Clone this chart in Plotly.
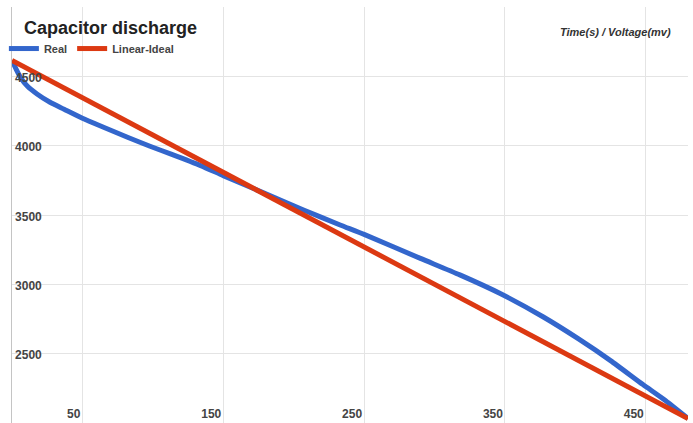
import plotly.graph_objects as go

# Real discharge curve (time in s, voltage in mV)
real_time = [0, 3, 6, 11, 18, 27, 37, 50, 65, 82, 98, 113, 134, 150, 179, 207, 233,
             250, 290, 318, 347, 377, 402, 425, 448, 463, 480]
real_mv = [4615, 4550, 4493, 4428, 4371, 4313, 4263, 4198, 4133, 4061, 3996, 3939, 3856,
           3784, 3658, 3536, 3428, 3360, 3187, 3068, 2932, 2766, 2608, 2450, 2277, 2169, 2032]

# Linear ideal discharge
ideal_time = [0, 480]
ideal_mv = [4615, 2032]

x_ticks = [50, 150, 250, 350, 450]
x_labels = ["<b>50</b>", "<b>150</b>", "<b>250</b>", "<b>350</b>", "<b>450</b>"]
y_ticks = [2500, 3000, 3500, 4000, 4500, 5000]
y_labels = ["<b>2500</b>", "<b>3000</b>", "<b>3500</b>", "<b>4000</b>", "<b>4500</b>", ""]

fig = go.Figure()
fig.add_trace(go.Scatter(x=real_time, y=real_mv, mode="lines", name="<b>Real</b>",
                         line=dict(color="#3366cc", width=5, shape="spline", smoothing=0.6)))
fig.add_trace(go.Scatter(x=ideal_time, y=ideal_mv, mode="lines", name="<b>Linear-Ideal</b>",
                         line=dict(color="#dc3912", width=5)))

tick_font = dict(family="Liberation Sans, Arial, sans-serif", size=12, color="#444444")

fig.update_layout(
    width=693, height=423,
    margin=dict(l=12, r=5, t=7, b=0),
    paper_bgcolor="white", plot_bgcolor="white",
    title=dict(text="<b>Capacitor discharge</b>", x=24 / 693, xanchor="left",
               xref="container", y=1 - 28 / 423, yanchor="middle", yref="container",
               font=dict(family="Liberation Sans, Arial, sans-serif", size=18, color="#222222")),
    legend=dict(orientation="h", x=-0.012, xanchor="left", y=0.935, yanchor="top",
                bgcolor="rgba(0,0,0,0)",
                font=dict(family="Liberation Sans, Arial, sans-serif", size=11, color="#444444"),
                itemwidth=30),
    xaxis=dict(range=[0, 480], tickvals=x_ticks, ticktext=x_labels,
               ticklabelposition="inside left", ticklabelshift=-2, ticklabelstandoff=-3,
               showgrid=True, gridcolor="#e4e4e4",
               gridwidth=1, zeroline=False, showline=False, ticks="",
               tickfont=tick_font),
    yaxis=dict(range=[2000, 5000], tickvals=y_ticks, ticktext=y_labels,
               ticklabelposition="inside bottom", ticklabelshift=-7, ticklabelstandoff=2,
               showgrid=True, gridcolor="#e4e4e4",
               gridwidth=1, zeroline=False, showline=True, linecolor="#c4c4c4",
               linewidth=1, ticks="", tickfont=tick_font),
    annotations=[dict(text="<b><i>Time(s) / Voltage(mv)</i></b>", xref="paper", yref="paper",
                      x=0.978, xanchor="right", y=0.94, yanchor="middle", showarrow=False,
                      font=dict(family="Liberation Sans, Arial, sans-serif", size=11,
                                color="#333333"))],
)

fig.write_html("out.html", config={"displayModeBar": False},
               post_script="document.body.style.margin='0';")
